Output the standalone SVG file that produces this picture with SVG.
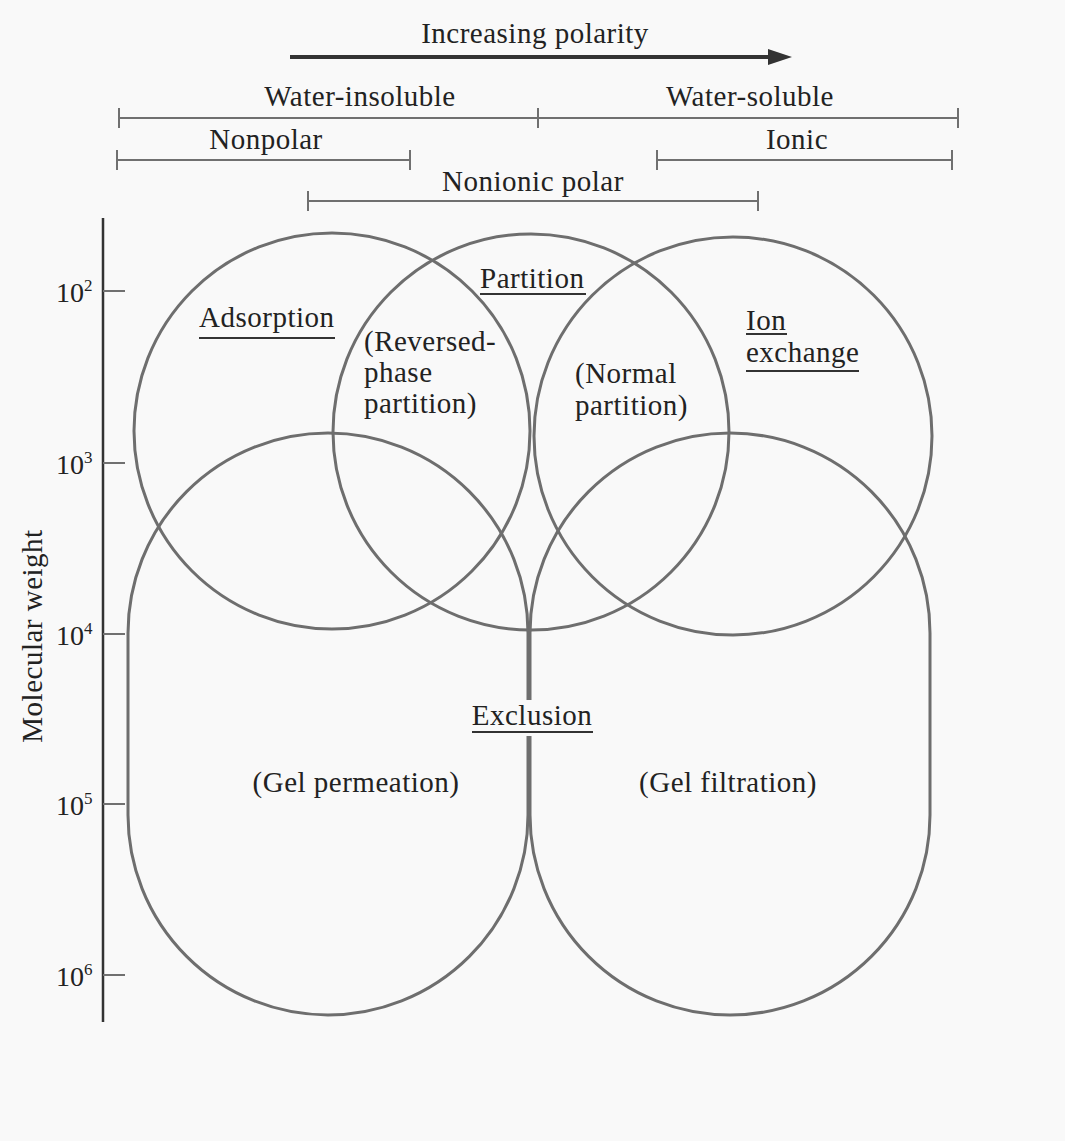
<svg xmlns="http://www.w3.org/2000/svg" width="1065" height="1141" viewBox="0 0 1065 1141">
<style>
.t{font-family:"Liberation Serif","Times New Roman",serif;font-size:29px;letter-spacing:0.5px;fill:#222}
.n{font-family:"Liberation Serif","Times New Roman",serif;font-size:28px;fill:#222}
.sup{font-size:17px}
.c{fill:none;stroke:#6e6e6e;stroke-width:3}
.br{fill:none;stroke:#707070;stroke-width:2}
.ul{stroke:#333;stroke-width:2}
.ax{stroke:#333;stroke-width:2.5;fill:none}
</style>
<rect width="1065" height="1141" fill="#f9f9f9"/>

<g id="polarity">
<text class="t" x="535" y="43" text-anchor="middle">Increasing polarity</text>
<line x1="290" y1="57" x2="772" y2="57" stroke="#333" stroke-width="4"/>
<path d="M768,49 L792,57 L768,65 Z" fill="#333"/>
</g>

<g id="brackets">
<path class="br" d="M119,118 H958 M119,108 V128 M538,108 V128 M958,108 V128"/>
<text class="t" x="360" y="106" text-anchor="middle">Water-insoluble</text>
<text class="t" x="750" y="106" text-anchor="middle">Water-soluble</text>
<path class="br" d="M117,160 H410 M117,150 V170 M410,150 V170"/>
<text class="t" x="266" y="149" text-anchor="middle">Nonpolar</text>
<path class="br" d="M657,160 H952 M657,150 V170 M952,150 V170"/>
<text class="t" x="797" y="149" text-anchor="middle">Ionic</text>
<path class="br" d="M308,201 H758 M308,191 V211 M758,191 V211"/>
<text class="t" x="533" y="191" text-anchor="middle">Nonionic polar</text>
</g>

<g id="axis">
<line class="ax" x1="103" y1="218" x2="103" y2="1022"/>
<path class="br" d="M103,291 H125 M103,463 H125 M103,634 H125 M103,804 H125 M103,975 H125"/>
<text class="n" x="56" y="302">10<tspan class="sup" dy="-11">2</tspan></text>
<text class="n" x="56" y="474">10<tspan class="sup" dy="-11">3</tspan></text>
<text class="n" x="56" y="645">10<tspan class="sup" dy="-11">4</tspan></text>
<text class="n" x="56" y="815">10<tspan class="sup" dy="-11">5</tspan></text>
<text class="n" x="56" y="986">10<tspan class="sup" dy="-11">6</tspan></text>
<text class="t" x="0" y="0" text-anchor="middle" transform="translate(42,636) rotate(-90)">Molecular weight</text>
</g>

<g id="adsorption">
<circle class="c" cx="332" cy="431" r="198"/>
<text class="t" x="199" y="327">Adsorption</text>
<line class="ul" x1="199" y1="338" x2="335" y2="338"/>
</g>

<g id="partition">
<circle class="c" cx="531" cy="432" r="198"/>
<text class="t" x="480" y="288">Partition</text>
<line class="ul" x1="480" y1="294" x2="586" y2="294"/>
<text class="t" x="364" y="351">(Reversed-</text>
<text class="t" x="364" y="382">phase</text>
<text class="t" x="364" y="413">partition)</text>
<text class="t" x="575" y="383">(Normal</text>
<text class="t" x="575" y="415">partition)</text>
</g>

<g id="ion-exchange">
<circle class="c" cx="733" cy="436" r="199"/>
<text class="t" x="746" y="330">Ion</text>
<line class="ul" x1="746" y1="334" x2="787" y2="334"/>
<text class="t" x="746" y="362">exchange</text>
<line class="ul" x1="746" y1="371" x2="859" y2="371"/>
</g>

<g id="gel-permeation">
<path class="c" d="M128,633 A200,200 0 0 1 528,633 L528,815 A200,200 0 0 1 128,815 Z"/>
<text class="t" x="356" y="792" text-anchor="middle">(Gel permeation)</text>
</g>

<g id="gel-filtration">
<path class="c" d="M530,633 A200,200 0 0 1 930,633 L930,815 A200,200 0 0 1 530,815 Z"/>
<text class="t" x="728" y="792" text-anchor="middle">(Gel filtration)</text>
</g>

<g id="exclusion">
<rect x="470" y="700" width="124" height="36" fill="#f9f9f9"/>
<text class="t" x="532" y="725" text-anchor="middle">Exclusion</text>
<line class="ul" x1="472" y1="732" x2="593" y2="732"/>
</g>
</svg>
